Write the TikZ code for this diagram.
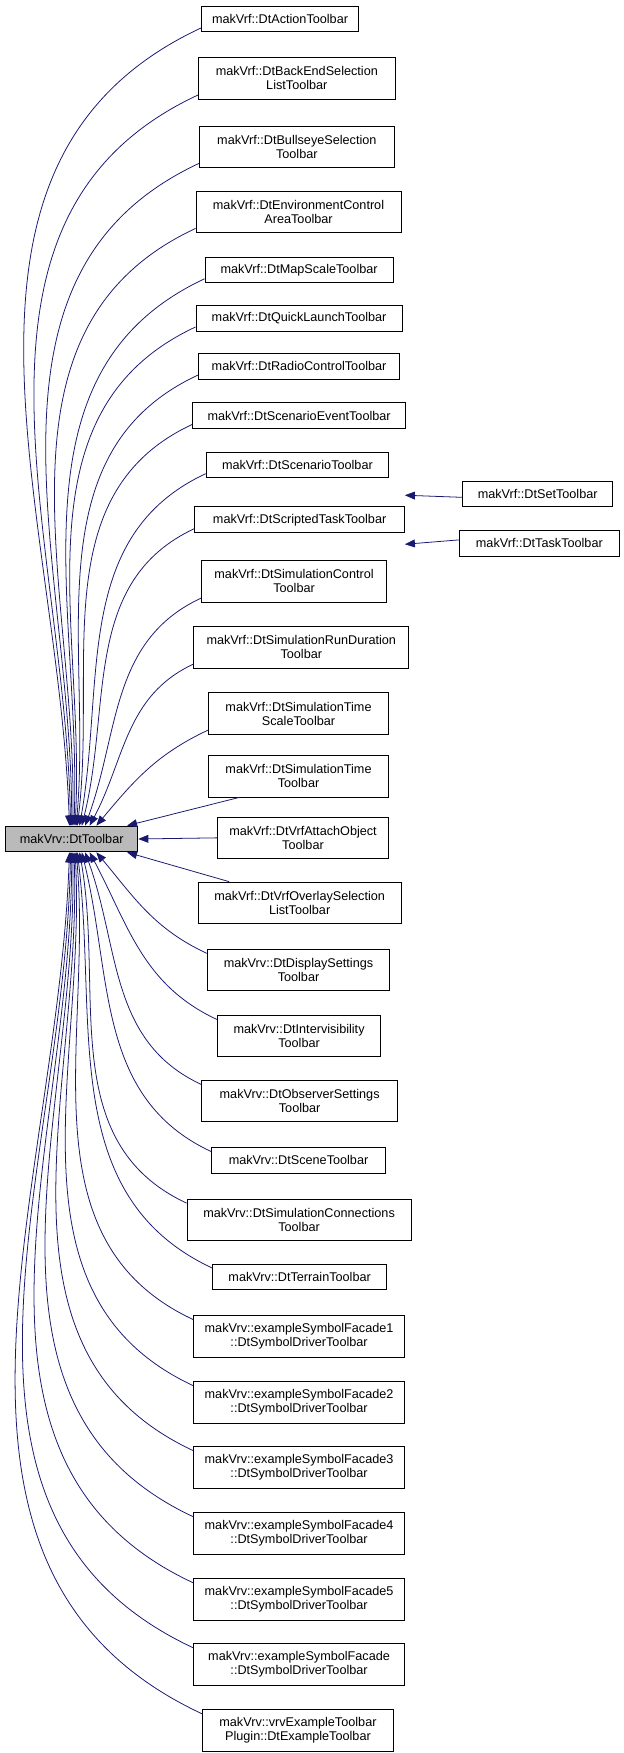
\documentclass[tikz,border=0pt]{standalone}
\usepackage{fontspec}
\setmainfont{Liberation Sans}
\usetikzlibrary{arrows.meta}
\definecolor{edge}{HTML}{191970}
\tikzset{
  box/.style={draw=black,fill=white,line width=0.8pt,align=center,font=\fontsize{11.3}{12.5}\selectfont,inner sep=2pt,minimum height=23},
  box2/.style={box,minimum height=37},
  arr/.style={draw=edge,line width=0.7pt,{Triangle[length=9pt,width=7pt,fill=edge]}-}
}
\begin{document}
\begin{tikzpicture}[x=1pt,y=-1pt]
\useasboundingbox (0,0) rectangle (557,1565);
\node[box,fill=black!27,minimum width=118] (root) at (64,749) {makVrv::DtToolbar};
% upper
\node[box,minimum width=140] (n1) at (250,17) {makVrf::DtActionToolbar};
\node[box2,minimum width=176] (n2) at (265,70) {makVrf::DtBackEndSelection\\ListToolbar};
\node[box2,minimum width=174] (n3) at (265,131) {makVrf::DtBullseyeSelection\\Toolbar};
\node[box2,minimum width=183] (n4) at (266.5,189) {makVrf::DtEnvironmentControl\\AreaToolbar};
\node[box,minimum width=168] (n5) at (267,241) {makVrf::DtMapScaleToolbar};
\node[box,minimum width=184] (n6) at (267,284) {makVrf::DtQuickLaunchToolbar};
\node[box,minimum width=180] (n7) at (267,327) {makVrf::DtRadioControlToolbar};
\node[box,minimum width=190] (n8) at (267,371) {makVrf::DtScenarioEventToolbar};
\node[box,minimum width=163] (n9) at (265.5,415) {makVrf::DtScenarioToolbar};
\node[box,minimum width=187] (n10) at (267.5,464) {makVrf::DtScriptedTaskToolbar};
\node[box2,minimum width=165] (n11) at (262.5,519) {makVrf::DtSimulationControl\\Toolbar};
\node[box2,minimum width=192] (n12) at (269,578) {makVrf::DtSimulationRunDuration\\Toolbar};
\node[box2,minimum width=161] (n13) at (266.5,637) {makVrf::DtSimulationTime\\ScaleToolbar};
\node[box2,minimum width=161] (n14) at (266.5,693) {makVrf::DtSimulationTime\\Toolbar};
\node[box2,minimum width=153] (n15) at (270.5,748) {makVrf::DtVrfAttachObject\\Toolbar};
\node[box2,minimum width=181] (n16) at (267.5,806) {makVrf::DtVrfOverlaySelection\\ListToolbar};
% lower
\node[box2,minimum width=163] (m1) at (266.5,866) {makVrv::DtDisplaySettings\\Toolbar};
\node[box2,minimum width=146] (m2) at (267,925) {makVrv::DtIntervisibility\\Toolbar};
\node[box2,minimum width=175] (m3) at (267.5,983) {makVrv::DtObserverSettings\\Toolbar};
\node[box,minimum width=155] (m4) at (266.5,1036) {makVrv::DtSceneToolbar};
\node[box2,minimum width=200] (m5) at (267,1089) {makVrv::DtSimulationConnections\\Toolbar};
\node[box,minimum width=155] (m6) at (267.5,1140) {makVrv::DtTerrainToolbar};
\node[box2,minimum width=188] (m7) at (267,1193) {makVrv::exampleSymbolFacade1\\::DtSymbolDriverToolbar};
\node[box2,minimum width=188] (m8) at (267,1252) {makVrv::exampleSymbolFacade2\\::DtSymbolDriverToolbar};
\node[box2,minimum width=188] (m9) at (267,1310) {makVrv::exampleSymbolFacade3\\::DtSymbolDriverToolbar};
\node[box2,minimum width=188] (m10) at (267,1369) {makVrv::exampleSymbolFacade4\\::DtSymbolDriverToolbar};
\node[box2,minimum width=188] (m11) at (267,1428) {makVrv::exampleSymbolFacade5\\::DtSymbolDriverToolbar};
\node[box2,minimum width=188] (m12) at (267,1486) {makVrv::exampleSymbolFacade\\::DtSymbolDriverToolbar};
\node[box2,minimum width=170] (m13) at (266,1545) {makVrv::vrvExampleToolbar\\Plugin::DtExampleToolbar};
% right
\node[box,minimum width=134] (s1) at (480,441) {makVrf::DtSetToolbar};
\node[box,minimum width=143] (s2) at (481.5,485) {makVrf::DtTaskToolbar};
% curved edges
\foreach \n/\xx/\o in {n1/62/92,n2/63/91,n3/64/90,n4/65/89,n5/66/88,n6/67/87,n7/68/85,n8/69/83,n9/71/80,n10/73/76,n11/76/70,n12/80/62,n13/86/50}
  \draw[arr] ([xshift=\xx-64]root.north) to[out=\o,in=205] ([yshift=4]\n.south west);
\foreach \n/\xx/\o in {m1/86/-50,m2/80/-62,m3/76/-70,m4/73/-76,m5/71/-80,m6/69/-83,m7/68/-85,m8/67/-87,m9/66/-88,m10/65/-89,m11/64/-90,m12/63/-91,m13/62/-92}
  \draw[arr] ([xshift=\xx-64]root.south) to[out=\o,in=155] ([yshift=-4]\n.north west);
\draw[arr] ([xshift=-10]root.north east) -- ([xshift=28]n14.south west);
\draw[arr] (root.east) -- (n15.west);
\draw[arr] ([xshift=-10]root.south east) -- ([xshift=28]n16.north west);
\draw[arr] ([yshift=10]n10.north east) -- ([yshift=-3]s1.west);
\draw[arr] ([yshift=-10]n10.south east) -- ([yshift=3]s2.west);
\end{tikzpicture}
\end{document}
